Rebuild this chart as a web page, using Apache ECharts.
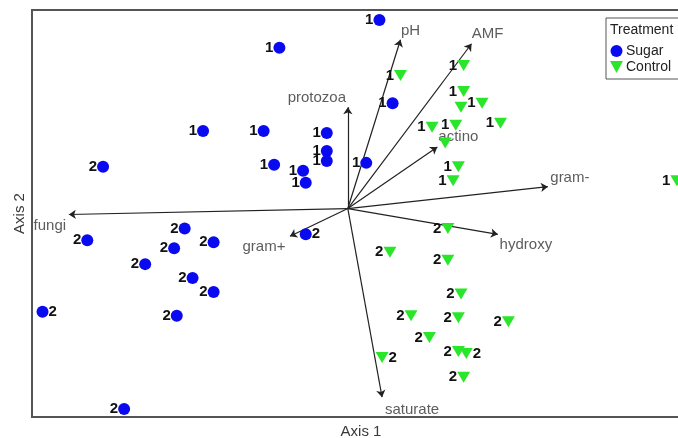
<!DOCTYPE html>
<html>
<head>
<meta charset="utf-8">
<script src="https://cdn.jsdelivr.net/npm/echarts@6/dist/echarts.min.js"></script>
<style>
  html, body { margin: 0; padding: 0; background: #fff; }
  #chart { width: 678px; height: 438px; }
</style>
</head>
<body>
<div id="chart"></div>
<script>
  // site scores: [axis1, axis2, sampling time]
  const sugarPoints = [
    [0.12, 0.95, 1], [-0.26, 0.81, 1], [-0.55, 0.39, 1], [-0.32, 0.39, 1],
    [-0.08, 0.38, 1], [-0.08, 0.29, 1], [-0.08, 0.24, 1], [-0.28, 0.22, 1],
    [-0.17, 0.19, 1], [-0.16, 0.13, 1], [0.17, 0.53, 1], [0.07, 0.23, 1],
    [-0.93, 0.21, 2], [-0.99, -0.16, 2], [-0.62, -0.10, 2], [-0.66, -0.20, 2],
    [-0.51, -0.17, 2], [-0.77, -0.28, 2], [-0.59, -0.35, 2], [-0.51, -0.42, 2],
    [-0.65, -0.54, 2], [-1.16, -0.52, 2], [-0.85, -1.01, 2], [-0.16, -0.13, 2]
  ];
  const controlPoints = [
    [0.20, 0.67, 1], [0.44, 0.72, 1], [0.44, 0.59, 1], [0.43, 0.51, 1],
    [0.51, 0.53, 1], [0.32, 0.41, 1], [0.41, 0.42, 1], [0.58, 0.43, 1],
    [0.37, 0.33, 1], [0.42, 0.21, 1], [0.40, 0.14, 1], [1.25, 0.14, 1],
    [0.38, -0.10, 2], [0.16, -0.22, 2], [0.38, -0.26, 2], [0.43, -0.43, 2],
    [0.24, -0.54, 2], [0.42, -0.55, 2], [0.61, -0.57, 2], [0.31, -0.65, 2],
    [0.42, -0.72, 2], [0.45, -0.73, 2], [0.13, -0.75, 2], [0.44, -0.85, 2]
  ];
  // variable vectors
  const vectorNames = ['fungi', 'gram+', 'protozoa', 'pH', 'AMF', 'actino', 'gram-', 'hydroxy', 'saturate'];
  const vectorX = [-1.06, -0.22, 0.00, 0.20, 0.47, 0.34, 0.76, 0.57, 0.13];
  const vectorY = [-0.03, -0.14, 0.51, 0.85, 0.83, 0.31, 0.11, -0.13, -0.95];

  // label placement (layout only)
  const sugarRightLabel = [21, 23];
  const controlRightLabel = [21, 22];
  const controlNoLabel = [3, 8];
  const vectorLabelOffset = {
    'fungi': [-19, 11], 'gram+': [-26, 11], 'protozoa': [-31, -9], 'pH': [10, -9],
    'AMF': [16, -10], 'actino': [21, -10], 'gram-': [22, -9], 'hydroxy': [28, 11], 'saturate': [30, 13]
  };

  const font = 'Liberation Sans, Arial, sans-serif';
  const triangle = 'path://M0,0L12,0L6,11Z';

  const pointData = (pts, rightIdx, hideIdx) => pts.map((p, i) => ({
    value: p,
    label: { show: !hideIdx.includes(i), position: rightIdx.includes(i) ? 'right' : 'left' }
  }));

  const pointLabel = {
    show: true,
    formatter: (p) => p.value[2],
    fontFamily: font,
    fontWeight: 'bold',
    fontSize: 15,
    color: '#111',
    distance: 0
  };

  const chart = echarts.init(document.getElementById('chart'));
  chart.setOption({
    animation: false,
    grid: {
      show: true,
      left: 32,
      right: -12,
      top: 10,
      bottom: 21,
      outerBoundsMode: 'none',
      containLabel: false,
      borderColor: '#555',
      borderWidth: 2
    },
    xAxis: {
      type: 'value',
      min: -1.2,
      max: 1.3,
      name: 'Axis 1',
      nameLocation: 'middle',
      nameGap: 7,
      nameTextStyle: { fontFamily: font, fontSize: 15, color: '#3a3a3a' },
      axisLine: { show: false },
      axisTick: { show: false },
      axisLabel: { show: false },
      splitLine: { show: false }
    },
    yAxis: {
      type: 'value',
      min: -1.05,
      max: 1.0,
      name: 'Axis 2',
      nameLocation: 'middle',
      nameGap: 5,
      nameTextStyle: { fontFamily: font, fontSize: 15, color: '#3a3a3a' },
      axisLine: { show: false },
      axisTick: { show: false },
      axisLabel: { show: false },
      splitLine: { show: false }
    },
    legend: {
      orient: 'vertical',
      left: 606,
      top: 18,
      padding: [26, 20, 5, 4],
      itemGap: 2,
      itemWidth: 13,
      itemHeight: 12,
      borderColor: '#555',
      borderWidth: 1,
      textStyle: { fontFamily: font, fontSize: 14, color: '#222', padding: [0, 0, 0, -2] },
      data: ['Sugar', 'Control']
    },
    graphic: [{
      type: 'text',
      left: 610,
      top: 23,
      style: { text: 'Treatment', font: '14px ' + font, fill: '#222' }
    }],
    series: [
      {
        type: 'lines',
        coordinateSystem: 'cartesian2d',
        polyline: false,
        symbol: ['none', 'arrow'],
        symbolSize: 7,
        lineStyle: { color: '#222', width: 1.2, opacity: 1 },
        data: vectorNames.map((n, i) => ({ coords: [[0, 0], [vectorX[i], vectorY[i]]] })),
        z: 2
      },
      {
        type: 'scatter',
        symbolSize: 0,
        silent: true,
        data: vectorNames.map((n, i) => ({
          name: n,
          value: [vectorX[i], vectorY[i]],
          label: { offset: vectorLabelOffset[n] }
        })),
        label: {
          show: true,
          position: 'inside',
          formatter: (p) => p.name,
          fontFamily: font,
          fontSize: 15,
          color: '#333'
        },
        z: 3
      },
      {
        name: 'Sugar',
        type: 'scatter',
        symbol: 'circle',
        symbolSize: 12,
        itemStyle: { color: '#0a0af0', opacity: 1 },
        label: pointLabel,
        data: pointData(sugarPoints, sugarRightLabel, []),
        z: 4
      },
      {
        name: 'Control',
        type: 'scatter',
        symbol: triangle,
        symbolSize: [13, 11],
        itemStyle: { color: '#2ae62a', opacity: 1 },
        label: pointLabel,
        data: pointData(controlPoints, controlRightLabel, controlNoLabel),
        z: 4
      }
    ]
  });
</script>
</body>
</html>
